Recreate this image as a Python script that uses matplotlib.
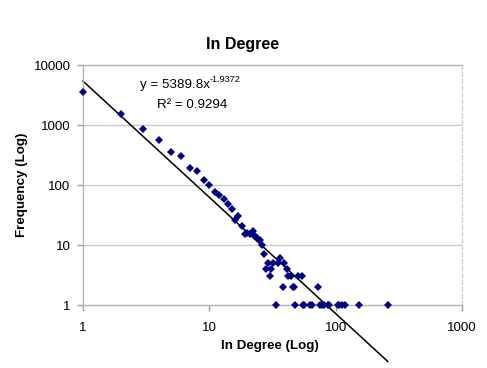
import numpy as np
import matplotlib
matplotlib.use("Agg")
from matplotlib import pyplot as plt

# data
degree = [1, 2, 3, 4, 5, 6, 7, 8, 9, 10, 11, 12, 13, 14, 15, 16, 17, 18, 19, 20,
          21, 22, 23, 24, 25, 26, 27, 28, 29, 30, 31, 32, 34, 35, 36, 38, 39, 41,
          42, 44, 46, 47, 48, 50, 54, 55, 56, 63, 65, 73, 75, 78, 81, 87, 88, 104,
          106, 112, 118, 153, 258]
frequency = [3550, 1540, 860, 560, 360, 305, 195, 170, 121, 100, 76, 67, 58, 48,
             40, 26, 30, 21, 15, 16, 15, 17, 14, 13, 12, 10, 7, 4, 5, 3, 4, 5, 1,
             5, 6, 2, 5, 4, 3, 3, 2, 2, 1, 3, 3, 1, 1, 1, 1, 2, 1, 1, 1, 1, 1, 1,
             1, 1, 1, 1, 1]

# power trendline as printed on the chart
fit_a = 5389.8
fit_b = -1.9372
fit_r2 = 0.9294

x_ticks = [1, 10, 100, 1000]
y_ticks = [1, 10, 100, 1000, 10000]

plt.rcParams['font.family'] = ['Liberation Sans', 'DejaVu Sans']

W, H = 487, 368
fig = plt.figure(figsize=(W / 100, H / 100), dpi=100)
ax = fig.add_axes([83 / W, 1 - 305 / H, 379 / W, 240 / H])

ax.set_xscale('log')
ax.set_yscale('log')
ax.set_xlim(1, 1000)
ax.set_ylim(1, 10000)

# gridlines (horizontal only)
for yv in y_ticks[1:-1]:
    ax.axhline(yv, color='#c8c8c8', lw=1, zorder=0)

# trendline over the data range, allowed to run past the plot area
xs = np.array([min(degree), max(degree)], dtype=float)
ax.plot(xs, fit_a * xs ** fit_b, color='black', lw=1.1, clip_on=False, zorder=2)

ax.plot(degree, frequency, linestyle='none', marker='D', markersize=4.1,
        color='#000080', markeredgewidth=0, clip_on=False, zorder=3)

ax.set_xticks(x_ticks)
ax.set_xticklabels([str(v) for v in x_ticks])
ax.set_yticks(y_ticks)
ax.set_yticklabels([str(v) for v in y_ticks])
ax.minorticks_off()
ax.tick_params(axis='both', direction='out', length=4, width=1, color='#a0a0a0',
               labelsize=9.6, pad=5)
ax.tick_params(axis='x', pad=8)

for side in ['left', 'bottom', 'top']:
    ax.spines[side].set_color('#b4b4b4')
    ax.spines[side].set_linewidth(1)
ax.spines['right'].set_color('#d0d0d0')
ax.spines['right'].set_linestyle((0, (3, 2)))
ax.spines['right'].set_linewidth(1)

fig.text(243 / W, 1 - 45 / H, 'In Degree', ha='center', va='center',
         fontsize=11.5, fontweight='bold')
fig.text(270 / W, 1 - 346 / H, 'In Degree (Log)', ha='center', va='center',
         fontsize=9.6, fontweight='bold')
fig.text(22 / W, 1 - 185 / H, 'Frequency (Log)', ha='center', va='center',
         rotation=90, fontsize=9.6, fontweight='bold')

# trendline label, exponent set as a small raised text after the base
eq = fig.text(140 / W, 1 - 85 / H, 'y = %.1fx' % fit_a, ha='left', va='center',
              fontsize=9.6)
ax.annotate('%.4f' % fit_b, xy=(1, 0.62), xycoords=eq, ha='left', va='bottom',
            fontsize=6.6, annotation_clip=False)
fig.text(192 / W, 1 - 105 / H, 'R\u00b2 = %.4f' % fit_r2,
         ha='center', va='center', fontsize=9.6)

fig.savefig('out.png', dpi=100)
